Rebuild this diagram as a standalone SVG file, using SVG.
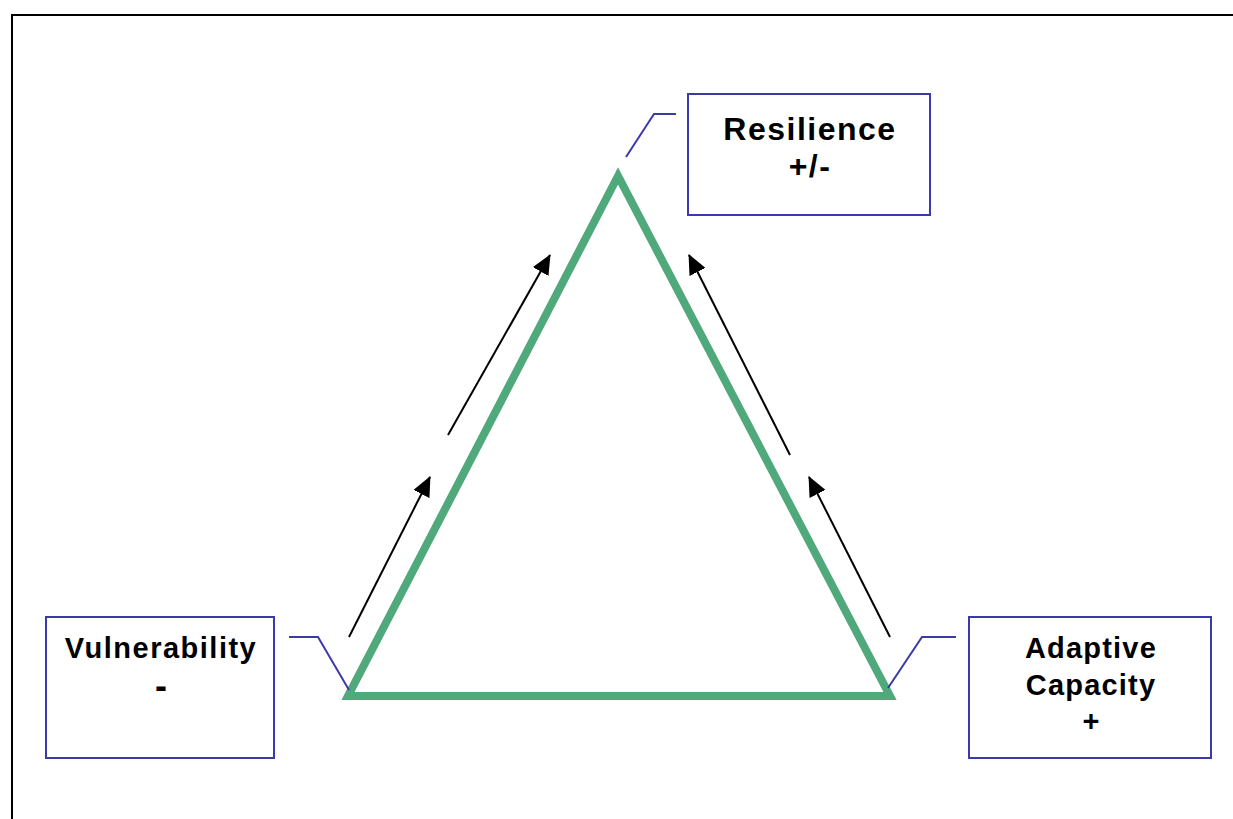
<svg xmlns="http://www.w3.org/2000/svg" width="1233" height="819" viewBox="0 0 1233 819">
<defs>
<style>
.box{fill:#fff;stroke:#3a3aa8;stroke-width:2}
.lead{fill:none;stroke:#3a3aa8;stroke-width:2}
.arr{stroke:#000;stroke-width:2;marker-end:url(#ah)}
.t{font-family:"Liberation Sans",Arial,sans-serif;font-weight:bold;fill:#000;text-anchor:middle}
</style>
<marker id="ah" viewBox="0 0 20 18" refX="19" refY="9" markerWidth="20" markerHeight="18" markerUnits="userSpaceOnUse" orient="auto">
<path d="M0,0 L20,9 L0,18 z" fill="#000"/>
</marker>
</defs>
<rect width="1233" height="819" fill="#fff"/>
<path d="M12,819 V15 H1233" fill="none" stroke="#000" stroke-width="2"/>
<g id="triangle">
<polygon points="618,176 348,696 890,696" fill="none" stroke="#4fa97a" stroke-width="8"/>
</g>
<g id="connectors">
<polyline class="lead" points="626,157 654,114 676,114"/>
<polyline class="lead" points="289,637 318,637 349,690"/>
<polyline class="lead" points="888,688 922,637 956,637"/>
<line class="arr" x1="349" y1="637" x2="430" y2="477"/>
<line class="arr" x1="448" y1="435" x2="550" y2="255"/>
<line class="arr" x1="890" y1="637" x2="809" y2="477"/>
<line class="arr" x1="790" y1="455" x2="689" y2="255"/>
</g>
<g id="resilience">
<rect class="box" x="688" y="94" width="242" height="121"/>
<text class="t" x="810" y="140" font-size="32" letter-spacing="1.5">Resilience</text>
<text class="t" x="810" y="177" font-size="32" letter-spacing="1.5">+/-</text>
</g>
<g id="vulnerability">
<rect class="box" x="46" y="617" width="228" height="141"/>
<text class="t" x="161" y="658" font-size="29" letter-spacing="1.5">Vulnerability</text>
<text class="t" x="161" y="698" font-size="36">-</text>
</g>
<g id="adaptive">
<rect class="box" x="969" y="617" width="242" height="141"/>
<text class="t" x="1091" y="658" font-size="29" letter-spacing="1.2">Adaptive</text>
<text class="t" x="1091" y="695" font-size="29" letter-spacing="1.2">Capacity</text>
<text class="t" x="1091" y="731" font-size="29">+</text>
</g>
</svg>
